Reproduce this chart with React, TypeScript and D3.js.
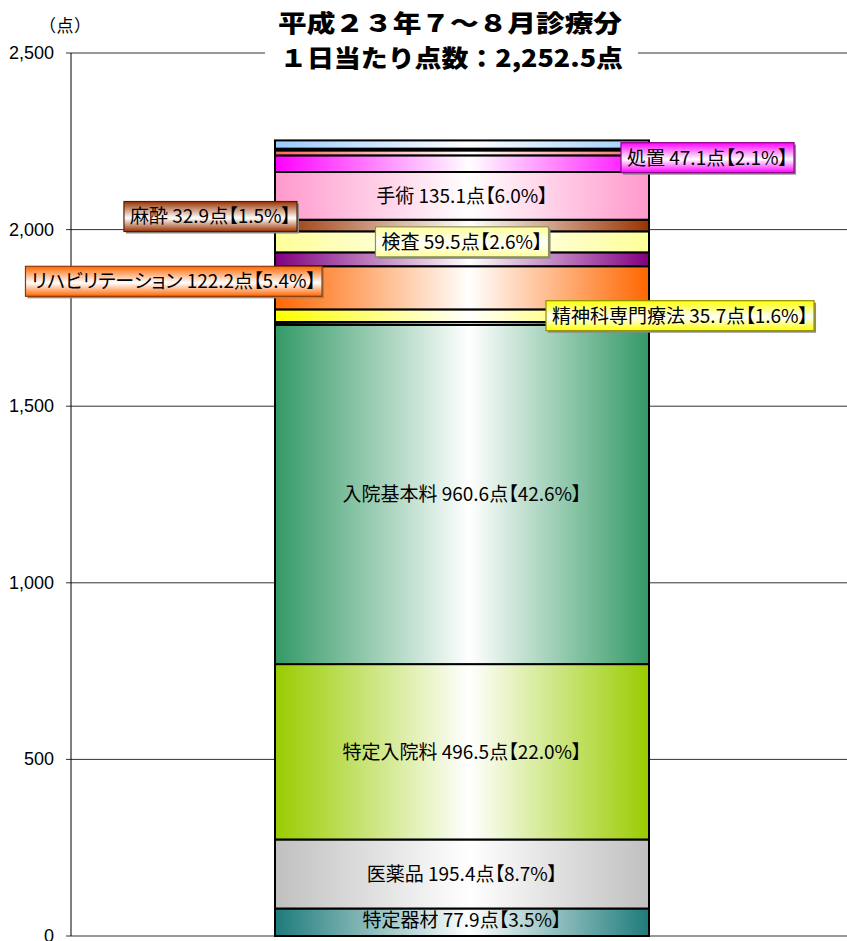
import React, { useEffect, useRef } from 'react';
import * as d3 from 'd3';

const titleLine1 = '平成２３年７～８月診療分';
const titleLine2 = '１日当たり点数：2,252.5点';
const yUnit = '（点）';
const barCategory = '平成23年7～8月';

const categories = [
  '特定器材', '医薬品', '特定入院料', '入院基本料', 'その他a', '精神科専門療法',
  'リハビリテーション', 'その他b', '検査', '麻酔', '手術', '処置', 'その他c', 'その他d', 'その他e',
];
const values = [77.9, 195.4, 496.5, 960.6, 8.0, 35.7, 122.2, 39.3, 59.5, 32.9, 135.1, 47.1, 14.0, 5.0, 23.3];
const percents: (number | null)[] = [3.5, 8.7, 22.0, 42.6, null, 1.6, 5.4, null, 2.6, 1.5, 6.0, 2.1, null, null, null];
const colors = [
  '#1e7b7b', '#c0c0c0', '#99cc00', '#339966', '#000000', '#ffff00',
  '#ff6600', '#800080', '#ffff99', '#993300', '#ff99cc', '#ff00ff', '#ff6666', '#000000', '#99ccff',
];
const yTicks = [0, 500, 1000, 1500, 2000, 2500];

type Place = { mode: 'inside' | 'start' | 'end' | 'middle'; ref: 'left' | 'right' | 'center'; off: number; dy: number };
const placement: Record<string, Place> = {
  '特定器材': { mode: 'inside', ref: 'center', off: 0, dy: -2 },
  '医薬品': { mode: 'inside', ref: 'center', off: 0, dy: 0 },
  '特定入院料': { mode: 'inside', ref: 'center', off: 0, dy: 0 },
  '入院基本料': { mode: 'inside', ref: 'center', off: 0, dy: 0 },
  '手術': { mode: 'inside', ref: 'center', off: 0, dy: 0 },
  '精神科専門療法': { mode: 'start', ref: 'right', off: -103, dy: 0 },
  'リハビリテーション': { mode: 'end', ref: 'left', off: 47, dy: -6.5 },
  '検査': { mode: 'middle', ref: 'center', off: 0, dy: 0 },
  '麻酔': { mode: 'end', ref: 'left', off: 22, dy: -9 },
  '処置': { mode: 'start', ref: 'right', off: -28, dy: -6 },
};

const W = 847;
const H = 941;
const FONT = "'Noto Sans CJK JP', 'Noto Sans', sans-serif";
const PALT = "font-feature-settings: 'palt' 1;";
const LABEL_SIZE = 19;

export default function App() {
  const ref = useRef<SVGSVGElement | null>(null);

  useEffect(() => {
    const svg = d3.select(ref.current);
    svg.selectAll('*').remove();

    const y = d3.scaleLinear().domain([0, 2500]).range([936, 53]);
    const x = d3.scaleBand().domain([barCategory]).range([275, 649]).padding(0);
    const barL = x(barCategory) as number;
    const barW = x.bandwidth();
    const barR = barL + barW;
    const barC = barL + barW / 2;
    const plotL = 71;

    const defs = svg.append('defs');
    colors.forEach((c, i) => {
      const g = defs.append('linearGradient').attr('id', `hg${i}`).attr('x1', '0').attr('x2', '1').attr('y1', '0').attr('y2', '0');
      g.append('stop').attr('offset', '0').attr('stop-color', c);
      g.append('stop').attr('offset', '0.52').attr('stop-color', '#ffffff');
      g.append('stop').attr('offset', '1').attr('stop-color', c);
      const v = defs.append('linearGradient').attr('id', `vg${i}`).attr('x1', '0').attr('x2', '0').attr('y1', '0').attr('y2', '1');
      v.append('stop').attr('offset', '0').attr('stop-color', c);
      v.append('stop').attr('offset', '0.55').attr('stop-color', '#ffffff');
      v.append('stop').attr('offset', '1').attr('stop-color', c);
    });

    // gridlines + ticks
    const grid = svg.append('g');
    yTicks.forEach((t) => {
      grid.append('line').attr('x1', plotL - 5).attr('x2', W).attr('y1', y(t)).attr('y2', y(t))
        .attr('stroke', '#333').attr('stroke-width', 1);
      grid.append('text').attr('x', 54).attr('y', y(t) + 6).attr('text-anchor', 'end')
        .attr('font-family', "'Liberation Sans', Arial, sans-serif").attr('font-size', 18)
        .attr('fill', '#000').text(d3.format(',')(t));
    });
    svg.append('line').attr('x1', plotL).attr('x2', plotL).attr('y1', y(2500)).attr('y2', y(0))
      .attr('stroke', '#000').attr('stroke-width', 1);

    svg.append('text').attr('x', 47).attr('y', 32)
      .attr('font-family', FONT).attr('font-size', 17).attr('style', PALT)
      .attr('textLength', 36).attr('lengthAdjust', 'spacing').text(yUnit);

    // stacked segments
    const cum = d3.cumsum(values);
    const segs = values.map((v, i) => ({ i, cat: categories[i], v, y0: cum[i] - v, y1: cum[i] }));
    const bars = svg.append('g');
    segs.forEach((s) => {
      bars.append('rect').attr('x', barL).attr('width', barW)
        .attr('y', y(s.y1)).attr('height', y(s.y0) - y(s.y1))
        .attr('fill', `url(#hg${s.i})`).attr('stroke', '#000').attr('stroke-width', 2);
    });

    // labels
    const lbl = svg.append('g');
    segs.forEach((s) => {
      const p = placement[s.cat];
      const pct = percents[s.i];
      if (!p || pct == null) return;
      const text = `${s.cat} ${s.v.toFixed(1)}点【${pct.toFixed(1)}%】`;
      const cy = (y(s.y0) + y(s.y1)) / 2 + p.dy;
      if (p.mode === 'inside') {
        lbl.append('text').attr('x', barC).attr('y', cy).attr('dy', '0.36em').attr('text-anchor', 'middle')
          .attr('font-family', FONT).attr('font-size', LABEL_SIZE).attr('style', PALT).attr('fill', '#000').text(text);
        return;
      }
      const g = lbl.append('g');
      const shadow = g.append('rect');
      const box = g.append('rect');
      const t = g.append('text').attr('font-family', FONT).attr('font-size', LABEL_SIZE).attr('style', PALT).attr('fill', '#000')
        .attr('dy', '0.36em').attr('y', cy).text(text);
      const tw = (t.node() as SVGTextElement).getComputedTextLength();
      const pad = 6;
      const bw = tw + pad * 2;
      const bh = 30;
      const refX = p.ref === 'left' ? barL : p.ref === 'right' ? barR : barC;
      const ax = refX + p.off;
      const bx = p.mode === 'start' ? ax : p.mode === 'end' ? ax - bw : ax - bw / 2;
      const by = cy - bh / 2;
      shadow.attr('x', bx + 2).attr('y', by + 2).attr('width', bw).attr('height', bh).attr('fill', '#8a8a8a');
      const c = d3.color(colors[s.i]) as d3.RGBColor;
      box.attr('x', bx).attr('y', by).attr('width', bw).attr('height', bh)
        .attr('fill', `url(#vg${s.i})`).attr('stroke', c.darker(1.6).formatHex()).attr('stroke-width', 1.2);
      t.attr('x', bx + pad);
    });

    // title
    svg.append('rect').attr('x', 265).attr('y', 0).attr('width', 373).attr('height', 88).attr('fill', '#fff');
    svg.append('text').attr('x', 278).attr('y', 32).attr('font-family', FONT).attr('font-weight', 900)
      .attr('font-size', 24).attr('textLength', 344).attr('lengthAdjust', 'spacingAndGlyphs').text(titleLine1);
    svg.append('text').attr('x', 280).attr('y', 67).attr('font-family', FONT).attr('font-weight', 900)
      .attr('font-size', 24).attr('textLength', 343).attr('lengthAdjust', 'spacingAndGlyphs').text(titleLine2);
  }, []);

  return (
    <svg ref={ref} width={W} height={H} style={{ position: 'absolute', left: 0, top: 0, background: '#fff' }} />
  );
}
